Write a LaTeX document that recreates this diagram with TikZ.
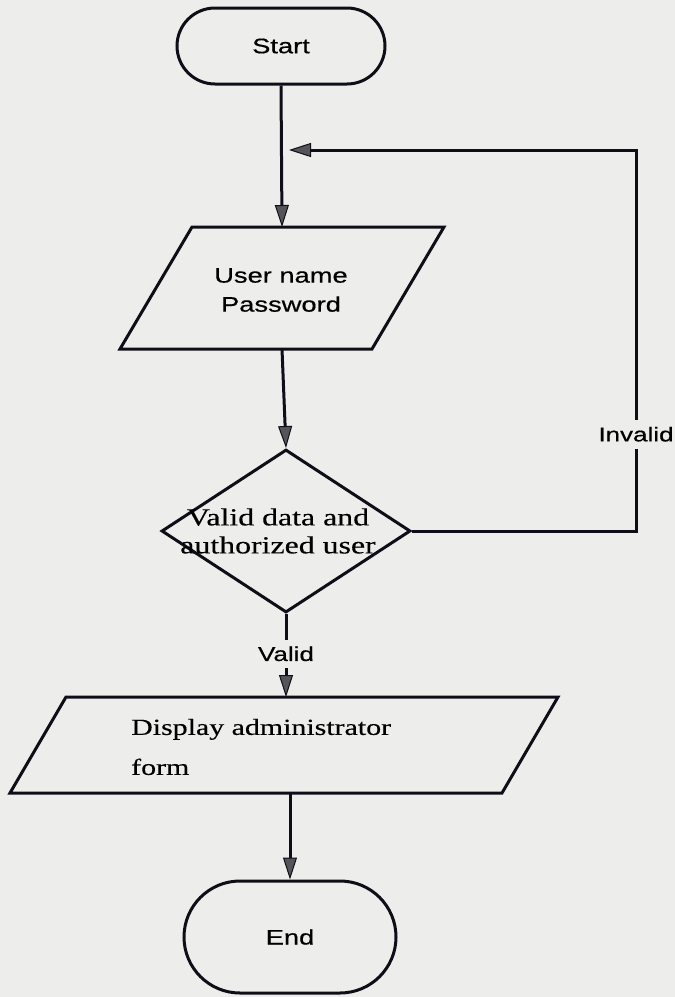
\documentclass[tikz,border=0pt]{standalone}
\usepackage{fontspec}
\usetikzlibrary{shapes.geometric,shapes.misc,arrows.meta}
\newfontfamily\flowsans[FakeStretch=1.3,FakeBold=0.5]{Liberation Sans}
\newfontfamily\flowserif[FakeStretch=1.3,FakeBold=0.3]{Liberation Serif}
\definecolor{paper}{RGB}{237,237,235}
\definecolor{ink}{RGB}{14,14,24}
\definecolor{tipgray}{RGB}{84,84,90}
\begin{document}
\begin{tikzpicture}[x=1pt,y=-1pt,
  flow/.style={draw=ink, line width=3pt,
    -{Triangle[length=22pt,width=14pt,line width=1pt,fill=tipgray]}},
  terminal/.style={rounded rectangle, draw=ink, line width=3pt,
    inner sep=0pt, font=\flowsans\fontsize{21}{29}\selectfont},
  iobox/.style={rectangle, inner sep=0pt, outer sep=0pt},
  ioedge/.style={draw=ink, line width=3pt, line join=miter},
  sanstext/.style={font=\flowsans\fontsize{21}{29}\selectfont, align=center, inner sep=0pt},
  seriftext/.style={font=\flowserif\fontsize{24.5}{28}\selectfont, inner sep=0pt},
  gaplabel/.style={font=\flowsans\fontsize{20}{24}\selectfont, fill=paper,
    inner xsep=2pt, inner ysep=7pt}]

  % page
  \fill[paper] (0,0) rectangle (675,997);
  \useasboundingbox (0,0) rectangle (675,997);

  % start terminal
  \node[terminal, minimum width=208pt, minimum height=76pt] (start) at (281,46) {Start};

  % input parallelogram
  \node[iobox, minimum width=252pt, minimum height=122pt] (inp) at (282,288) {};
  \draw[ioedge]
    ([xshift=36pt]inp.north west) -- ([xshift=36pt]inp.north east)
    -- ([xshift=-36pt]inp.south east) -- ([xshift=-36pt]inp.south west) -- cycle;
  \node[sanstext] (inptext) at (281,290) {User name\\Password};

  % decision
  \node[diamond, draw=ink, line width=3pt, inner sep=0pt,
        minimum width=249pt, minimum height=163pt] (dec) at (286,531) {};
  \node[seriftext, align=center] (dectext) at (278,531) {Valid data and\\authorized user};

  % output parallelogram
  \node[iobox, minimum width=492pt, minimum height=96pt] (out) at (284,745) {};
  \draw[ioedge]
    ([xshift=28pt]out.north west) -- ([xshift=28pt]out.north east)
    -- ([xshift=-28pt]out.south east) -- ([xshift=-28pt]out.south west) -- cycle;
  \node[seriftext, anchor=west, align=left,
        font=\flowserif\fontsize{23}{40}\selectfont] (outtext) at (131,747)
        {Display administrator\\form};

  % end terminal
  \node[terminal, minimum width=212pt, minimum height=112pt] (end) at (290,937) {End};

  % loop-back points
  \coordinate (turn) at (636,150);
  \coordinate (back) at (289,150);

  % connectors
  \draw[flow] (start.south) -- (inp.north);
  \draw[flow] (inp.south) -- (dec.north);
  \draw[flow] (dec.south) -- node[gaplabel, pos=0.48] (validlbl) {Valid} (dec.south |- out.north);
  \draw[flow] (end.north |- out.south) -- (end.north);
  \draw[flow] (dec.east) -| node[gaplabel, pos=0.627] (invalidlbl) {Invalid} (turn) -- (back);
\end{tikzpicture}
\end{document}
